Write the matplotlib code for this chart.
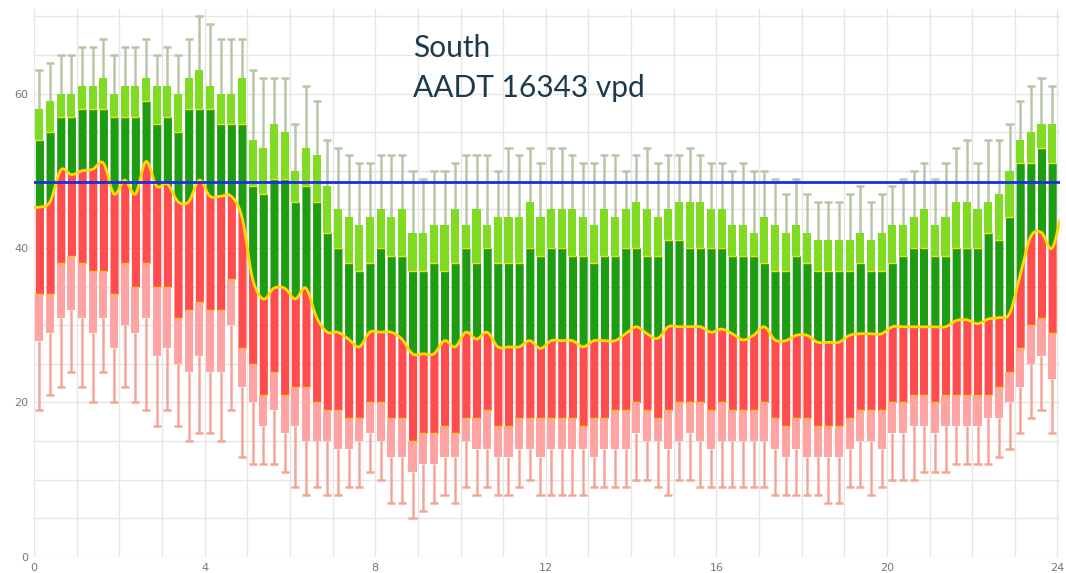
import matplotlib.pyplot as plt
import numpy as np

# 15-minute bins over the day
hours = np.arange(96) * 0.25 + 0.125

med = [45.3,46,50.1,49.5,50,50.2,51,47,48.8,47,51.2,48,48.3,46,46,48.8,46.7,46.7,46.7,44,
       36,33.4,34.8,34.8,33.4,34.8,31,29.1,29.1,28.2,27.2,29.1,29.1,29.1,28.2,26.3,26.3,26.3,28,27.2,
       29.1,28.2,29.1,27.2,27.2,27.2,28,27,28,28,28,27.2,28,28,28,28.9,29.8,28.9,28.3,29.8,
       29.8,29.8,29.8,29.1,29.5,28.9,28.1,28.7,29.8,28.1,28,28.7,28.7,27.8,27.8,27.8,28.7,28.9,28.9,28.9,
       29.8,29.8,29.8,29.8,29.8,29.8,30.6,30.7,30.2,30.8,31,31.5,36.5,41.5,42,40]
q3 = [54,55,57,57,58,58,58,57,57,57,59,56,57,55,58,58,58,56,56,56,
      48,47,49,49,46,48,46,42,40,38,37,38,40,39,39,37,37,38,37,38,
      40,38,40,38,38,38,40,39,40,40,39,39,38,39,39,40,40,39,39,41,
      41,40,40,40,40,39,39,39,38,37,37,39,38,37,37,37,37,38,37,37,
      38,39,40,40,39,39,40,40,40,42,41,44,51,51,53,51]
upper = [58,59,60,60,61,61,62,60,61,61,62,61,61,60,62,63,61,60,60,62,
         54,53,56,55,50,53,52,48,45,44,43,44,45,44,45,42,42,43,43,45,
         43,45,43,44,44,44,46,44,45,45,45,44,43,45,44,45,46,45,44,45,
         46,46,46,45,45,43,43,42,44,43,42,43,42,41,41,41,41,42,41,42,
         43,43,44,45,43,44,46,46,45,46,47,50,54,55,56,56]
whisk_hi = [63,64,65,65,66,66,67,65,66,66,67,65,66,65,67,70,69,67,67,67,
            63,62,62,62,56,61,59,54,53,52,51,51,52,52,52,50,49,50,50,51,
            52,52,52,50,53,52,53,51,53,53,52,51,51,52,52,50,52,53,51,52,
            52,53,52,51,51,50,51,50,50,49,47,49,47,46,46,46,47,48,46,47,
            48,49,50,51,49,51,53,54,51,54,54,56,59,61,62,61]
q1 = [34,34,38,39,38,37,37,34,38,35,38,35,35,31,32,33,32,32,36,27,
      25,21,24,21,22,22,20,19,19,18,18,20,20,18,18,15,16,16,17,16,
      18,18,19,17,17,18,18,18,18,18,18,17,18,18,19,19,20,19,18,19,
      20,20,20,19,20,19,19,19,20,18,17,18,18,17,17,17,18,19,19,19,
      20,20,21,21,20,21,21,21,21,21,22,24,27,30,31,29]
lower = [28,29,31,32,31,29,31,27,30,29,31,26,27,25,24,26,24,24,30,22,
         20,17,19,16,17,15,15,15,14,14,15,16,15,13,13,11,12,12,13,13,
         15,14,14,13,13,14,14,13,14,14,14,14,13,14,14,14,16,15,15,14,
         15,16,15,14,15,15,15,15,15,14,13,14,13,13,13,13,14,15,15,14,
         16,16,17,17,16,17,17,17,17,18,18,20,22,25,26,23]
whisk_lo = [19,21,22,24,22,20,24,20,22,20,19,17,19,17,15,16,16,15,19,13,
            12,12,12,11,9,8,9,8,8,9,9,11,10,7,7,5,6,7,8,7,
            9,8,9,8,8,9,10,8,8,8,8,8,9,9,9,9,10,10,9,8,
            10,10,9,9,9,9,9,9,9,8,8,8,8,8,7,7,9,9,8,9,
            10,10,10,11,11,11,12,12,12,12,13,14,16,18,19,16]
limit = 48.6

med = np.array(med); q3 = np.array(q3); upper = np.array(upper)
q1 = np.array(q1); lower = np.array(lower)


def spline(xk, yk, xs):
    # catmull-rom style cubic through the medians
    m = np.gradient(yk, xk)
    i = np.clip(np.searchsorted(xk, xs) - 1, 0, len(xk) - 2)
    h = xk[i + 1] - xk[i]
    t = (xs - xk[i]) / h
    return ((2*t**3 - 3*t**2 + 1) * yk[i] + (t**3 - 2*t**2 + t) * h * m[i]
            + (-2*t**3 + 3*t**2) * yk[i + 1] + (t**3 - t**2) * h * m[i + 1])


# curve starts flat on the left and heads back to the first value at midnight
xk = np.concatenate([[hours[0] - 0.25], hours, [hours[-1] + 0.25]])
yk = np.concatenate([[med[0]], med, [med[0]]])

w = 0.19
fig = plt.figure(figsize=(10.66, 5.73), dpi=100)
ax = fig.add_axes([0.032, 0.028, 0.962, 0.957])

ax.vlines(hours, upper, whisk_hi, color='#b7c6a8', lw=1.8, zorder=1)
ax.hlines(whisk_hi, hours - w/2, hours + w/2, color='#b7c6a8', lw=1.8, zorder=1)
ax.vlines(hours, whisk_lo, lower, color='#f5a595', lw=1.8, zorder=1)
ax.hlines(whisk_lo, hours - w/2, hours + w/2, color='#f5a595', lw=1.8, zorder=1)

ax.bar(hours, q1 - lower, bottom=lower, width=w, color='#ffa3a3', zorder=2)
ax.bar(hours, upper - q3, bottom=q3, width=w, color='#80dc22', zorder=2)
for i in range(96):
    xs = np.linspace(hours[i] - w/2, hours[i] + w/2, 25)
    c = np.clip(spline(xk, yk, xs), q1[i], q3[i])
    ax.fill_between(xs, q1[i], c, color='#ff4c4c', lw=0, zorder=2)
    ax.fill_between(xs, c, q3[i], color='#1e9c12', lw=0, zorder=2)
ax.hlines(q1, hours - w/2, hours + w/2, color='#ffc21a', lw=1, zorder=3)
ax.hlines(q3, hours - w/2, hours + w/2, color='#e8e020', lw=1, zorder=3)

xx = np.linspace(0, 24.1, 2000)
ax.plot(xx, spline(xk, yk, xx), color='#ffd800', lw=2, zorder=4)
ax.axhline(limit, color='#1a2ee0', lw=2, zorder=5)

ax.set_xlim(0, 24.05)
ax.set_ylim(0, 71)
ax.set_xticks(range(0, 25, 4))
ax.set_xticks(range(25), minor=True)
ax.set_yticks(range(0, 61, 20))
ax.set_yticks(range(0, 71, 5), minor=True)
ax.grid(which='both', color='#e6e6e6', lw=1, zorder=0)
ax.set_axisbelow(True)
ax.tick_params(which='both', length=0, labelsize=8, colors='#777777', pad=4)
for s in ax.spines.values():
    s.set_visible(False)

fig.text(413/1066, 1 - 34/573, 'South', fontsize=21.5, family='Lato',
         color='#1d3a4c', va='top')
fig.text(413/1066, 1 - 74/573, 'AADT 16343 vpd', fontsize=21.5, family='Lato',
         color='#1d3a4c', va='top')

plt.savefig('out.png')
